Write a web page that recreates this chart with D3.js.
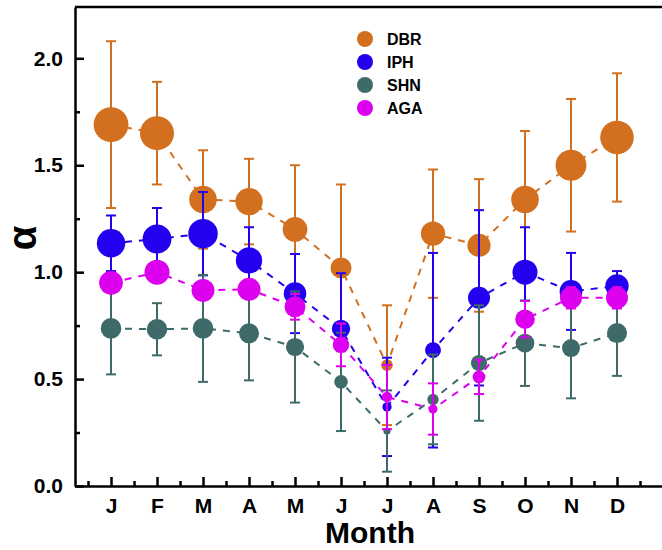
<!DOCTYPE html>
<html>
<head>
<meta charset="utf-8">
<script src="https://cdn.jsdelivr.net/npm/d3@7"></script>
<style>
  html, body { margin: 0; padding: 0; background: #fff; }
  svg { display: block; font-family: "Liberation Sans", Arial, sans-serif; }
  .axis text { font-size: 21px; font-weight: bold; fill: #000; }
</style>
</head>
<body>
<div id="container"></div>
<script>
// month labels and values
const months = ['J', 'F', 'M', 'A', 'M', 'J', 'J', 'A', 'S', 'O', 'N', 'D'];

const dbrValues = [1.69, 1.65, 1.34, 1.33, 1.20, 1.02, 0.565, 1.18, 1.125, 1.34, 1.50, 1.63];
const dbrErrors = [0.39, 0.24, 0.23, 0.20, 0.30, 0.39, 0.28, 0.30, 0.31, 0.32, 0.31, 0.30];

const iphValues = [1.135, 1.155, 1.18, 1.055, 0.90, 0.735, 0.37, 0.635, 0.88, 1.00, 0.91, 0.935];
const iphErrors = [0.13, 0.145, 0.195, 0.155, 0.185, 0.26, 0.23, 0.455, 0.41, 0.21, 0.18, 0.07];

const shnValues = [0.737, 0.733, 0.737, 0.714, 0.65, 0.487, 0.257, 0.405, 0.575, 0.668, 0.645, 0.715];
const shnErrors = [0.215, 0.122, 0.25, 0.22, 0.26, 0.23, 0.19, 0.21, 0.27, 0.20, 0.235, 0.20];

const agaValues = [0.95, 1.0, 0.915, 0.92, 0.838, 0.66, 0.416, 0.36, 0.51, 0.78, 0.88, 0.88];
const agaErrors = [0.03, 0.02, 0.03, 0.03, 0.06, 0.10, 0.15, 0.12, 0.08, 0.085, 0.05, 0.05];

const yTicks = [0, 0.5, 1.0, 1.5, 2.0];

// series styling (radius factor: marker radius grows with the value)
const series = [
  { name: 'DBR', color: '#D2701F', values: dbrValues, errors: dbrErrors, rk: 10.3 },
  { name: 'IPH', color: '#2300EE', values: iphValues, errors: iphErrors, rk: 12.5 },
  { name: 'SHN', color: '#3E6B69', values: shnValues, errors: shnErrors, rk: 14 },
  { name: 'AGA', color: '#DD00EE', values: agaValues, errors: agaErrors, rk: 12.5 }
];

const width = 662, height = 550;
const plotLeft = 75, plotTop = 7, plotBottom = 486;

const svg = d3.select('#container')
  .append('svg')
  .attr('width', width)
  .attr('height', height);

const x = d3.scaleLinear().domain([0.217, 13]).range([plotLeft, 663]);
const y = d3.scaleLinear().domain([0, 2.24]).range([plotBottom, plotTop]);

// minor ticks
const minorY = d3.range(0.25, 2.24, 0.5);
const minorX = d3.range(0.5, 13, 1);

svg.append('g')
  .attr('transform', `translate(0,${plotBottom})`)
  .call(d3.axisBottom(x).tickValues(minorX).tickSize(-5).tickSizeOuter(0).tickFormat(''))
  .call(g => g.select('.domain').remove())
  .call(g => g.selectAll('line').attr('stroke-width', 2.5));

svg.append('g')
  .attr('transform', `translate(${plotLeft},0)`)
  .call(d3.axisLeft(y).tickValues(minorY).tickSize(-5).tickSizeOuter(0).tickFormat(''))
  .call(g => g.select('.domain').remove())
  .call(g => g.selectAll('line').attr('stroke-width', 2.5));

// main axes
const xAxis = svg.append('g')
  .attr('class', 'axis')
  .attr('transform', `translate(0,${plotBottom})`)
  .call(d3.axisBottom(x)
    .tickValues(d3.range(1, 13))
    .tickSize(-9)
    .tickSizeOuter(0)
    .tickPadding(12)
    .tickFormat(d => months[d - 1]));
xAxis.select('.domain').attr('stroke-width', 2.5);
xAxis.selectAll('line').attr('stroke-width', 2.5);

const yAxis = svg.append('g')
  .attr('class', 'axis')
  .attr('transform', `translate(${plotLeft},0)`)
  .call(d3.axisLeft(y)
    .tickValues(yTicks)
    .tickSize(-9)
    .tickSizeOuter(0)
    .tickPadding(12)
    .tickFormat(d3.format('.1f')));
yAxis.select('.domain').attr('stroke-width', 2.5);
yAxis.selectAll('line').attr('stroke-width', 2.5);

// top frame line
svg.append('line')
  .attr('x1', plotLeft).attr('x2', width)
  .attr('y1', y(2.24)).attr('y2', y(2.24))
  .attr('stroke', '#000')
  .attr('stroke-width', 2.5);

// axis titles
svg.append('text')
  .attr('x', 370)
  .attr('y', 543)
  .attr('text-anchor', 'middle')
  .attr('font-size', 30)
  .attr('font-weight', 'bold')
  .text('Month');

svg.append('text')
  .attr('transform', 'translate(36,238) rotate(-90)')
  .attr('text-anchor', 'middle')
  .attr('font-size', 40)
  .attr('font-weight', 'bold')
  .text('α');

// dashed connecting lines
const line = d3.line()
  .x((d, i) => x(i + 1))
  .y(d => y(d));

series.forEach(s => {
  svg.append('path')
    .datum(s.values)
    .attr('d', line)
    .attr('fill', 'none')
    .attr('stroke', s.color)
    .attr('stroke-width', 2)
    .attr('stroke-dasharray', '7,7');
});

// error bars and markers, one series after another
series.forEach(s => {
  const g = svg.append('g');
  const pts = s.values.map((v, i) => ({ m: i + 1, v: v, e: s.errors[i] }));

  g.selectAll('.bar')
    .data(pts)
    .enter()
    .append('line')
    .attr('x1', d => x(d.m)).attr('x2', d => x(d.m))
    .attr('y1', d => y(d.v + d.e)).attr('y2', d => y(d.v - d.e))
    .attr('stroke', s.color)
    .attr('stroke-width', 2);

  [1, -1].forEach(sign => {
    g.selectAll('.cap' + sign)
      .data(pts)
      .enter()
      .append('line')
      .attr('x1', d => x(d.m) - 5).attr('x2', d => x(d.m) + 5)
      .attr('y1', d => y(d.v + sign * d.e)).attr('y2', d => y(d.v + sign * d.e))
      .attr('stroke', s.color)
      .attr('stroke-width', 2);
  });

  g.selectAll('circle')
    .data(pts)
    .enter()
    .append('circle')
    .attr('cx', d => x(d.m))
    .attr('cy', d => y(d.v))
    .attr('r', d => d.v * s.rk)
    .attr('fill', s.color);
});

// legend
const legend = svg.append('g').attr('transform', 'translate(365,39)');
series.forEach((s, i) => {
  legend.append('circle')
    .attr('cx', 0)
    .attr('cy', i * 23)
    .attr('r', 8)
    .attr('fill', s.color);
  legend.append('text')
    .attr('x', 22)
    .attr('y', i * 23 + 6)
    .attr('font-size', 16)
    .attr('font-weight', 'bold')
    .text(s.name);
});
</script>
</body>
</html>
